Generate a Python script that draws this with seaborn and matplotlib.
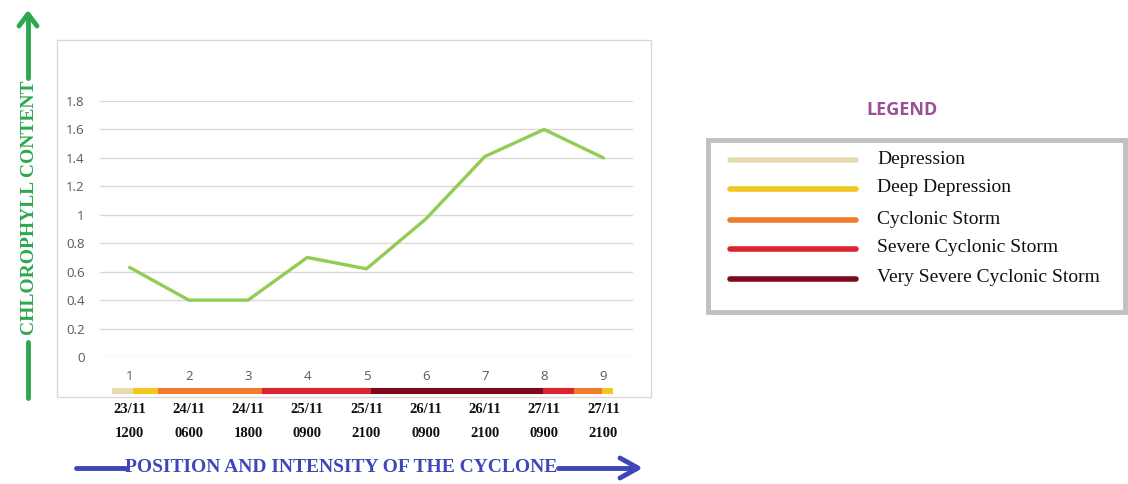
import matplotlib
matplotlib.use("Agg")
import matplotlib.pyplot as plt
from matplotlib.patches import Rectangle
from matplotlib.lines import Line2D
import seaborn as sns
import pandas as pd

# Observation positions along the cyclone track
positions = [1, 2, 3, 4, 5, 6, 7, 8, 9]
chlorophyll = [0.63, 0.40, 0.40, 0.70, 0.62, 0.97, 1.41, 1.60, 1.40]
dates = ["23/11", "24/11", "24/11", "25/11", "25/11", "26/11", "26/11", "27/11", "27/11"]
times = ["1200", "0600", "1800", "0900", "2100", "0900", "2100", "0900", "2100"]
y_ticks = [0, 0.2, 0.4, 0.6, 0.8, 1, 1.2, 1.4, 1.6, 1.8]
y_tick_labels = ["0", "0.2", "0.4", "0.6", "0.8", "1", "1.2", "1.4", "1.6", "1.8"]

# Intensity stages along the track (segment edges in position units)
stage_edges = [0.70, 1.05, 1.48, 3.23, 5.08, 7.98, 8.50, 8.98, 9.17]
stage_of_segment = ["Depression", "Deep Depression", "Cyclonic Storm",
                    "Severe Cyclonic Storm", "Very Severe Cyclonic Storm",
                    "Severe Cyclonic Storm", "Cyclonic Storm", "Deep Depression"]

stage_names = ["Depression", "Deep Depression", "Cyclonic Storm",
               "Severe Cyclonic Storm", "Very Severe Cyclonic Storm"]
stage_colors = ["#e6dcb0", "#f2c623", "#ef7d2d", "#dc2330", "#7b0a1e"]
stage_color = dict(zip(stage_names, stage_colors))

sns.set_theme(style="white")
plt.rcParams["font.family"] = ["Open Sans", "DejaVu Sans"]

W, H = 1128, 484
fig = plt.figure(figsize=(W / 100, H / 100), dpi=100)


def fx(px):
    return px / W


def fy(py):
    return 1 - py / H


# Chart frame
fig.patches.append(Rectangle((fx(57), fy(397)), fx(651) - fx(57), fy(40) - fy(397),
                             transform=fig.transFigure, fill=False,
                             edgecolor="#d9d9d9", linewidth=1.0))

ax = fig.add_axes([fx(100), fy(357), fx(633) - fx(100), fy(101) - fy(357)])
df = pd.DataFrame({"position": positions, "chlorophyll": chlorophyll})
sns.lineplot(data=df, x="position", y="chlorophyll", ax=ax, color="#92cc52",
             linewidth=2.4, clip_on=False, zorder=3)

ax.set_xlim(0.5, 9.5)
ax.set_ylim(0, 1.8)
ax.set_yticks(y_ticks)
ax.set_yticklabels(y_tick_labels, color="#595959", fontsize=9.5)
ax.tick_params(axis="y", length=0, pad=11)
ax.set_xticks([])
for y in y_ticks:
    ax.axhline(y, color="#d9d9d9", linewidth=1.0, zorder=1)
for s in ax.spines.values():
    s.set_visible(False)
ax.set_xlabel("")
ax.set_ylabel("")
ax.patch.set_alpha(0)

# Position numbers, intensity bar and time stamps below the plot
for p, d, t in zip(positions, dates, times):
    ax.text(p, -0.14, str(p), ha="center", va="center", color="#595959",
            fontsize=9.5, clip_on=False)
    ax.text(p, -0.37, d, ha="center", va="center", color="#111111",
            fontsize=10.5, fontweight="bold", family="Liberation Serif")
    ax.text(p, -0.535, t, ha="center", va="center", color="#111111",
            fontsize=10.5, fontweight="bold", family="Liberation Serif")

for x0, x1, st in zip(stage_edges[:-1], stage_edges[1:], stage_of_segment):
    ax.hlines(-0.239, x0, x1, colors=stage_color[st], linewidth=4.4,
              clip_on=False, zorder=2)

# Axis titles with arrows
green = "#2ea84c"
blue = "#3f46b8"
fig.text(fx(30), fy(208), "CHLOROPHYLL CONTENT", rotation=90, ha="center",
         va="center", color=green, fontsize=14, fontweight="bold",
         family="Liberation Serif")
fig.add_artist(Line2D([fx(28), fx(28)], [fy(398), fy(342)], color=green,
                      linewidth=3.5, solid_capstyle="round"))
fig.add_artist(Line2D([fx(28), fx(28)], [fy(78), fy(16)], color=green,
                      linewidth=3.5, solid_capstyle="round"))
fig.add_artist(Line2D([fx(19), fx(28), fx(37)], [fy(26), fy(14), fy(26)],
                      color=green, linewidth=3.5, solid_capstyle="round",
                      solid_joinstyle="round"))

fig.text(fx(341), fy(468), "POSITION AND INTENSITY OF THE CYCLONE", ha="center",
         va="center", color=blue, fontsize=14, fontweight="bold",
         family="Liberation Serif")
fig.add_artist(Line2D([fx(76), fx(126)], [fy(468), fy(468)], color=blue,
                      linewidth=3.5, solid_capstyle="round"))
fig.add_artist(Line2D([fx(558), fx(636)], [fy(468), fy(468)], color=blue,
                      linewidth=3.5, solid_capstyle="round"))
fig.add_artist(Line2D([fx(620), fx(638), fx(620)], [fy(458), fy(468), fy(478)],
                      color=blue, linewidth=3.5, solid_capstyle="round",
                      solid_joinstyle="round"))

# Legend panel
fig.text(fx(902), fy(110), "LEGEND", ha="center", va="center", color="#9b4f96",
         fontsize=13, fontweight="bold")
fig.patches.append(Rectangle((fx(708), fy(312)), fx(1125) - fx(708), fy(140) - fy(312),
                             transform=fig.transFigure, fill=False,
                             edgecolor="#c0c0c0", linewidth=3.5))
legend_y = [160, 189, 220, 249, 279]
for name, col, yy in zip(stage_names, stage_colors, legend_y):
    fig.add_artist(Line2D([fx(730), fx(856)], [fy(yy), fy(yy)], color=col,
                          linewidth=4, solid_capstyle="round"))
    fig.text(fx(877), fy(yy - 1), name, ha="left", va="center", color="#111111",
             fontsize=14, family="Liberation Serif")

fig.savefig("out.png", dpi=100)
